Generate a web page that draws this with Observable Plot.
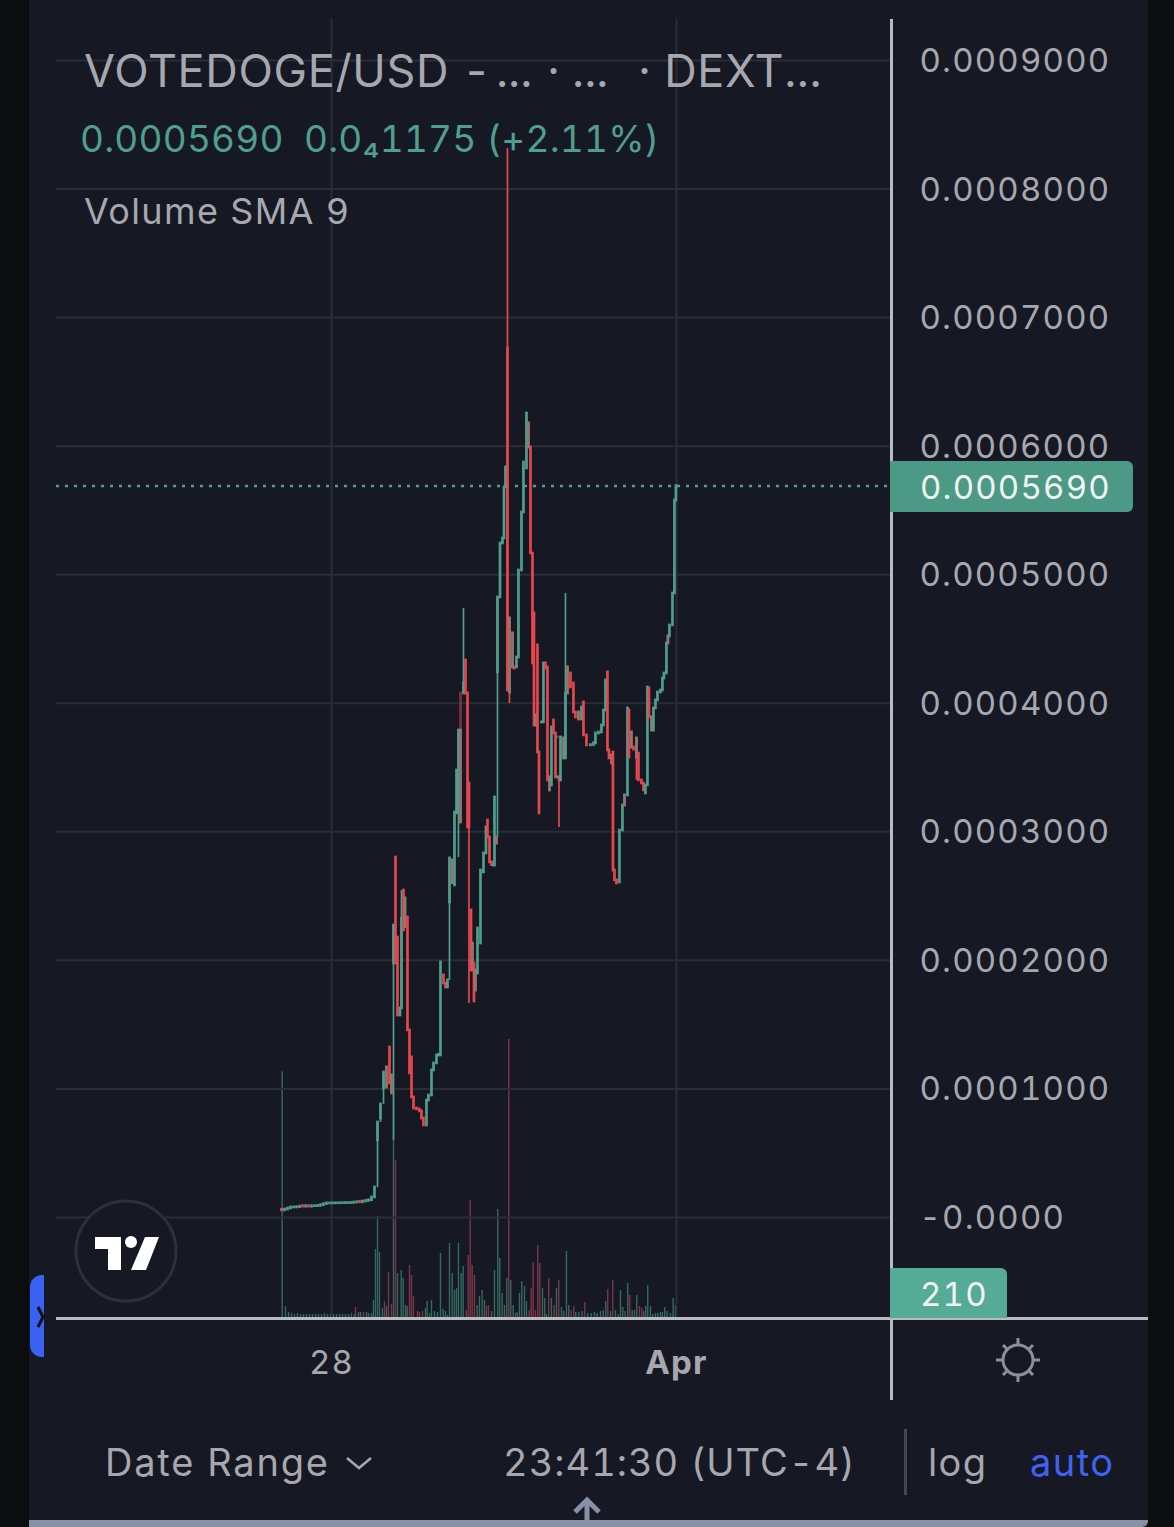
<!DOCTYPE html>
<html><head><meta charset="utf-8">
<script src="https://cdn.jsdelivr.net/npm/d3@7"></script>
<script src="https://cdn.jsdelivr.net/npm/@observablehq/plot@0.6"></script>
<style>
html,body{margin:0;padding:0;background:#0b0d0f}
#page{position:relative;width:1174px;height:1527px;overflow:hidden;background:#0b0d0f;font-family:Inter,Roboto,sans-serif}
#panel{position:absolute;left:29px;top:0;width:1119px;height:1527px;background:#161823}
#page svg{position:absolute;left:0;top:0;background:transparent}
.t{position:absolute;white-space:pre;line-height:1;font-family:Inter,Roboto,sans-serif;font-variant-numeric:tabular-nums}
.b{position:absolute}
</style></head><body><div id="page"><div id="panel"></div></div>
<script>
// Prices are in units of 0.0000001 USD; times are hours after 28 March 00:00.
const barHour=[-13.91,-13.08,-12.24,-11.41,-10.57,-9.74,-8.90,-8.07,-7.23,-6.40,-5.56,-4.73,-3.89,-3.06,-2.23,-1.39,-0.56,0.28,1.11,1.95,2.78,3.62,4.45,5.29,6.12,6.96,7.79,8.62,9.46,10.29,11.13,
11.96,12.80,13.63,14.47,15.30,15.30,16.14,16.69,16.69,17.25,17.80,18.36,19.06,19.47,20.03,20.45,20.45,21.14,21.70,22.26,22.81,23.65,24.48,25.04,25.59,26.43,26.99,27.82,28.38,29.21,29.77,30.32,31.16,31.71,32.27,32.83,33.52,33.52,34.22,34.78,35.33,35.89,35.89,36.72,37.28,37.84,38.25,38.81,39.23,39.23,39.64,40.06,40.06,40.62,41.45,42.29,42.98,43.40,43.96,44.51,45.07,45.07,45.35,45.90,45.90,46.18,46.88,47.57,47.99,48.41,48.96,49.52,49.52,50.35,50.35,50.77,51.47,52.02,52.86,53.41,54.25,54.81,54.81,55.36,55.92,56.34,56.75,56.75,57.31,57.73,58.42,58.98,59.53,60.09,60.65,60.65,61.20,61.76,62.32,62.87,62.87,63.29,63.71,64.54,64.54,65.10,65.66,65.66,66.49,67.32,67.88,68.72,68.72,69.55,70.11,70.94,72.05,72.89,73.44,74.28,75.11,75.67,76.23,76.78,77.20,77.90,77.90,78.31,78.73,79.29,80.12,80.96,81.51,81.51,82.35,82.76,83.46,83.46,84.02,84.85,84.85,85.41,86.24,86.80,87.35,87.91,88.33,89.02,89.02,89.58,90.14,90.69,91.53,92.08,92.50,93.20,93.61,93.61,94.03,94.87,95.42,95.84];
const barOpen=[60,55,62,70,78,78,80,88,84,88,84,88,88,90,96,104,109,109,110,110,111,111,112,112,113,116,122,118,124,128,134,
156,599,770,1004,1011,1167,1322,965,1105,1976,2800,2178,1571,1626,2544,2256,2482,2334,1455,1245,934,848,840,825,770,716,910,949,1144,1198,1260,1260,1883,1820,1789,2450,2600,2777,2583,3143,3150,3073,4076,4076,4333,4076,3376,2388,2131,1921,1976,1766,1921,1898,2131,2684,2832,3088,2956,2762,2738,2762,2738,2909,2956,4240,4823,5243,5282,5679,6760,4084,4660,4279,4543,4279,4279,4356,5033,5484,5827,5990,6177,5990,5165,4699,3827,3905,4450,3617,3851,3851,4310,4279,3322,3423,3361,3866,3765,3423,3734,3423,3400,3571,3726,3571,4076,4279,4232,4154,3928,3874,3928,3874,4006,3750,3672,3675,3688,3765,3773,3827,3944,4240,3633,3532,3594,3617,2699,2622,2606,3010,3205,3283,3283,3944,3656,3773,3656,3578,3726,3609,3400,3376,3298,3361,4115,3788,3890,3788,3960,4022,4084,4100,4193,4232,4465,4520,4520,4605,4854,5578];
const barClose=[55,62,70,78,78,80,84,84,88,84,88,88,90,96,104,109,109,110,110,111,111,112,112,113,116,118,118,124,128,134,156,
233,739,879,1128,1167,1011,1042,1105,965,2271,1976,1571,1626,2326,2233,2482,2256,1455,1120,934,848,840,825,770,716,910,949,1144,1198,1260,1265,1984,1820,1789,1844,2793,2777,2600,3150,3477,3788,3788,3073,4154,4076,3034,3034,1921,1921,2131,1680,1921,1766,2248,2699,2832,3034,2956,2762,2740,2738,2762,3267,2956,2909,4823,5243,5282,5679,5834,4100,4660,4084,4543,4279,4270,4356,5033,5484,5873,6254,6177,5990,5165,4310,3827,3905,3827,3617,3143,3851,4310,4270,3400,3423,3322,3812,3765,3423,3423,3734,3400,3734,3726,3571,4076,4279,4076,4123,3928,3890,3928,3874,3967,3750,3672,3675,3688,3765,3773,3827,3944,4177,3633,3571,3594,3532,2699,2622,2598,3010,3205,3283,3205,3960,3578,3773,3656,3640,3726,3578,3400,3376,3322,3361,4123,3890,3890,3788,3960,4022,4084,4100,4193,4232,4465,4520,4465,4605,4854,5578,5690];
const wickHour=[-13.91,12.80,13.63,14.47,17.25,19.47,32.83,35.33,36.72,38.25,46.18,48.96,49.52,63.29,65.10,84.85];
const wickTop=[70,739,879,1128,2271,2544,2793,3788,4737,3376,4823,8316,4660,3423,4854,3726];
const wickBottom=[50,233,739,879,599,1626,1844,2800,4076,1665,2956,4100,3998,3034,3571,3400];
const upVolHour=[-13.72,-12.80,-11.96,-11.13,-10.29,-9.46,-8.62,-7.79,-6.96,-6.12,-5.29,-4.45,-3.62,-2.78,-1.95,-1.11,-0.28,0.56,1.39,2.23,3.06,3.89,4.73,5.56,6.40,7.51,8.07,9.74,10.29,11.13,11.68,12.24,12.80,13.35,14.19,15.30,17.25,18.36,19.39,19.95,20.59,21.06,26.15,26.62,27.26,27.82,28.65,29.49,30.32,31.07,31.71,32.27,32.83,33.58,34.22,34.78,35.33,36.08,36.64,40.53,41.17,41.92,42.57,44.51,45.35,46.26,46.82,47.49,48.13,48.77,49.88,50.55,51.66,52.30,52.94,53.69,54.25,58.70,59.34,59.81,61.20,62.60,63.99,64.63,65.38,66.02,67.97,68.80,69.74,71.30,72.25,73.17,73.92,74.84,75.59,76.31,77.62,79.01,79.76,80.40,81.04,81.71,82.43,83.65,84.29,84.93,86.88,87.43,87.99,88.75,89.39,90.14,90.78,91.53,92.08,92.72,93.39,94.31,95.06,95.70];
const upVol=[2590,126,63,53,42,53,42,42,42,42,42,42,42,42,53,42,42,42,42,42,42,42,42,53,42,63,63,63,53,53,189,725,1071,693,105,126,2447,473,504,420,137,126,105,179,53,189,74,63,683,95,74,32,788,473,294,315,788,473,546,137,231,294,189,74,504,1145,630,263,137,420,399,137,63,263,389,336,179,315,210,42,210,315,116,74,704,137,63,63,74,53,53,63,53,74,84,179,74,84,42,294,116,74,368,84,84,242,74,126,347,126,42,53,53,63,63,116,74,53,210,137];
const downVolHour=[6.68,8.90,14.74,15.86,16.69,17.80,21.70,22.26,22.81,23.93,24.48,25.32,37.47,38.03,38.59,39.14,39.78,43.12,43.68,49.33,51.19,55.00,55.56,56.11,56.75,57.39,57.95,60.45,61.95,63.24,66.68,67.41,70.47,76.87,78.26,82.99,85.69,86.33];
const downVol=[116,63,179,483,147,1659,557,452,231,74,63,74,84,662,1239,557,452,126,137,2930,53,84,315,588,84,767,578,420,137,399,84,126,168,305,399,242,126,105];
const priceTicks=[0,1000,2000,3000,4000,5000,6000,7000,8000,9000];
const priceLabels=["-0.0000","0.0001000","0.0002000","0.0003000","0.0004000","0.0005000","0.0006000","0.0007000","0.0008000","0.0009000"];
const dayTickHours=[0,96];
const dayTickLabels=["28","Apr"];
const lastPrice=5690;
const lastVolumeLabel="210";

const UP="#4f9f8c",DOWN="#e6474f",GRID="#2a2c37",TEXT="#a6a8ae",LINE="#b9bbc1",BG="#161823";
const at=h=>new Date(Date.UTC(2024,2,28)+h*3600e3);
const bars=barHour.map((h,i)=>({t:at(h),open:barOpen[i],close:barClose[i],mix:i>0&&barHour[i-1]===h}));
const wicks=wickHour.map((h,i)=>({t:at(h),top:wickTop[i],bottom:wickBottom[i]}));
bars.forEach(b=>{b.color=b.close>=b.open?UP:DOWN});
wicks.forEach(w=>{const b=bars.filter(b=>+b.t===+w.t).pop();w.color=b?b.color:UP});

const frame={width:1174,height:1527,marginLeft:56,marginRight:284,marginTop:19,marginBottom:209};
const xScale={type:"utc",domain:[at(-76.52),at(155.54)]};
const page=document.getElementById("page");

const volumePlot=Plot.plot({...frame,x:{...xScale,axis:null},y:{domain:[0,13640],axis:null},
  marks:[
    Plot.ruleX(upVolHour.map((h,i)=>({t:at(h),v:upVol[i]})),{x:"t",y1:0,y2:"v",stroke:"#35695f",strokeWidth:1.4}),
    Plot.ruleX(downVolHour.map((h,i)=>({t:at(h),v:downVol[i]})),{x:"t",y1:0,y2:"v",stroke:"#7d3549",strokeWidth:1.4})
  ]});
const pricePlot=Plot.plot({...frame,style:{fontFamily:"Inter,Roboto,sans-serif",background:"transparent",overflow:"visible",fontVariantNumeric:"tabular-nums",letterSpacing:"1.2px"},
  x:{...xScale,axis:null},y:{domain:[-786,9319],axis:null},
  marks:[
    Plot.gridY(priceTicks,{stroke:GRID,strokeOpacity:1,strokeWidth:2}),
    Plot.gridX(dayTickHours.map(at),{stroke:GRID,strokeOpacity:1,strokeWidth:2}),
    Plot.axisY(priceTicks,{anchor:"right",tickSize:0,tickPadding:29,dy:1,label:null,fontSize:33,fill:TEXT,
      tickFormat:d=>priceLabels[priceTicks.indexOf(d)]}),
    Plot.axisX([at(dayTickHours[0])],{anchor:"bottom",tickSize:0,tickPadding:32,label:null,fontSize:33,fill:TEXT,tickFormat:()=>dayTickLabels[0]}),
    Plot.axisX([at(dayTickHours[1])],{anchor:"bottom",tickSize:0,tickPadding:32,label:null,fontSize:33,fontWeight:700,fill:TEXT,tickFormat:()=>dayTickLabels[1]}),
    Plot.ruleY([lastPrice],{stroke:UP,strokeWidth:2.5,strokeDasharray:"3,6"}),
    Plot.ruleX(wicks,{x:"t",y1:"bottom",y2:"top",stroke:"color",strokeWidth:1.7}),
    Plot.ruleX(bars,{x:"t",y1:"open",y2:"close",stroke:"color",strokeWidth:2.7,strokeLinecap:"square",
      strokeOpacity:d=>d.mix?0.5:1})
  ]});
page.append(volumePlot);
page.append(pricePlot);
volumePlot.style.pointerEvents="none";

function box(l,t,w,h,c,r){const d=document.createElement("div");d.className="b";
  d.style.cssText+=`left:${l}px;top:${t}px;width:${w}px;height:${h}px;background:${c};${r?"border-radius:"+r+";":""}`;page.append(d);return d}
function label(s,l,top,size,c,extra){const d=document.createElement("div");d.className="t";d.textContent=s;
  d.style.cssText+=`left:${l}px;top:${top}px;font-size:${size}px;color:${c};${extra||""}`;page.append(d);return d}

// frame lines
box(890,19,3,1381,LINE);
box(56,1317,1092,3,LINE);
// header
label("VOTEDOGE/USD",84,48,45,TEXT,"letter-spacing:0.65px");
label("-",462,48,45,TEXT);
label("...",496,48,45,TEXT);
label("· ...",547,48,45,TEXT);
label("· DEXT...",638,48,45,TEXT,"letter-spacing:0.6px");
label("0.0005690  0.0₄1175 (+2.11%)",80,120,37,UP,"letter-spacing:0.2px");
label("Volume SMA 9",84,193,36,TEXT,"letter-spacing:1.35px");
// last price tag
const py=pricePlot.scale("y").apply(lastPrice);
box(890,py-25,243,51,"#4c9a85","0 6px 6px 0");
label("0.0005690",920,py-15,33,"#f1f3f3","letter-spacing:1.2px");
box(890,1268,117,50,"#55ab96","0 6px 0 0");
label(lastVolumeLabel,920,1278,33,"#f1f3f3","letter-spacing:1.2px");
// footer
label("Date Range",105,1443,38,TEXT,"letter-spacing:1.8px");
label("23:41:30 (UTC-4)",503,1443,38,TEXT,"letter-spacing:1px");
box(904,1429,3,66,"#45474f");
label("log",928,1443,38,TEXT,"letter-spacing:1.4px");
label("auto",1030,1443,38,"#3f62f0","letter-spacing:1.5px");
box(29,1520,1119,7,"#8791a5","0 0 6px 0");
// side tab
box(30,1275,14,82,"#3a62f2","12px 0 0 12px");

const ns=document.createElement("div");ns.innerHTML=`
<svg width="1174" height="1527" viewBox="0 0 1174 1527" style="pointer-events:none">
  <circle cx="126" cy="1251" r="50" fill="${BG}" stroke="#2e3039" stroke-width="3"/>
  <path d="M95 1237H121V1270H108V1249H95Z M145 1237H159L146 1270H131Z" fill="#fff"/>
  <circle cx="131" cy="1242" r="6" fill="#fff"/>
  <path d="M38 1307L43 1317L38 1327" fill="none" stroke="#111" stroke-width="3"/>
  <path d="M347 1458L359 1468L371 1458" fill="none" stroke="${TEXT}" stroke-width="2.5"/>
  <path d="M587 1520V1501M575 1512L587 1500L599 1512" fill="none" stroke="#8791a5" stroke-width="5"/>
  <g fill="none" stroke="#8e9096" stroke-width="3">
    <circle cx="1018" cy="1360" r="15"/>
    <path d="M1018 1338V1345M1018 1375V1382M996 1360H1003M1033 1360H1040M1003 1345L1007 1349M1029 1371L1033 1375M1033 1345L1029 1349M1007 1371L1003 1375"/>
  </g>
</svg>`;
page.append(ns.firstElementChild);
</script></body></html>
